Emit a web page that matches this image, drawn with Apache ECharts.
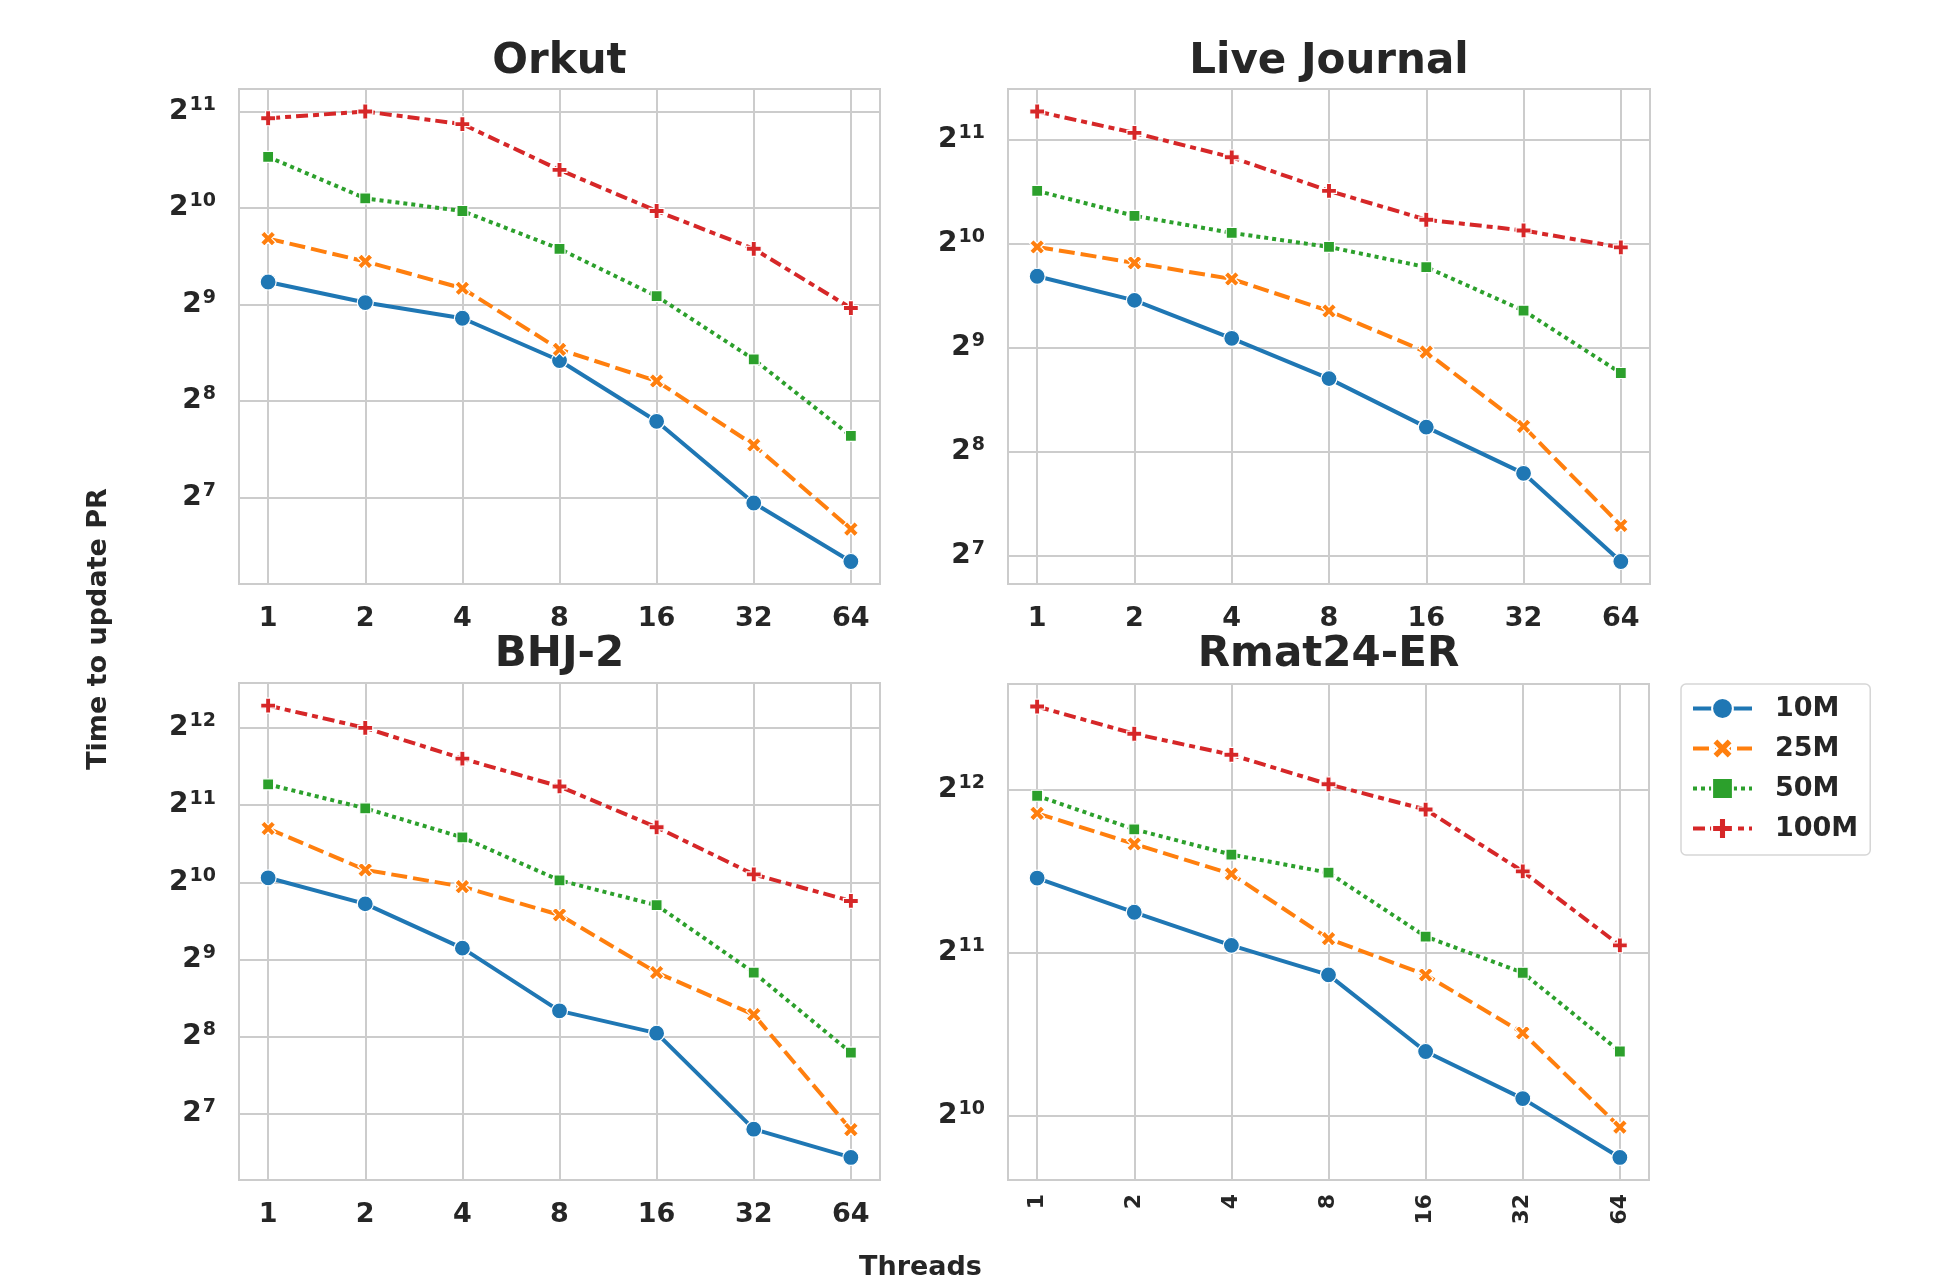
<!DOCTYPE html>
<html>
<head>
<meta charset="utf-8">
<script src="https://cdn.jsdelivr.net/npm/echarts@6/dist/echarts.min.js"></script>
<style>
html,body{margin:0;padding:0;background:#fff;}
#chart{width:1946px;height:1278px;}
</style>
</head>
<body>
<div id="chart"></div>
<script>
// ---- data ----
const threads = [1, 2, 4, 8, 16, 32, 64];
const seriesNames = ['10M', '25M', '50M', '100M'];
const panelTitles = ['Orkut', 'Live Journal', 'BHJ-2', 'Rmat24-ER'];

const orkut_10M  = [601.8, 519.2, 463.7, 342.3, 221.2, 123.0, 80.8];
const orkut_25M  = [822.0, 697.5, 575.2, 370.7, 295.5, 186.6, 102.0];
const orkut_50M  = [1478.5, 1097.5, 1002.1, 763.7, 543.4, 345.1, 199.2];
const orkut_100M = [1950.9, 2048.0, 1870.3, 1346.6, 1002.1, 763.7, 499.0];

const lj_10M  = [824.9, 702.3, 545.3, 416.7, 301.5, 221.5, 123.0];
const lj_25M  = [1003.0, 902.0, 810.1, 654.4, 497.3, 303.0, 156.4];
const lj_50M  = [1458.3, 1234.8, 1102.0, 1003.0, 876.7, 655.8, 432.6];
const lj_100M = [2476.3, 2146.9, 1824.2, 1458.3, 1202.7, 1119.7, 1000.1];

const bhj_10M  = [1066.8, 844.0, 567.3, 323.1, 264.5, 111.7, 86.7];
const bhj_25M  = [1660.1, 1145.7, 984.9, 764.8, 455.7, 312.4, 111.3];
const bhj_50M  = [2467.8, 1990.6, 1532.8, 1042.6, 834.1, 455.7, 222.2];
const bhj_100M = [5004.5, 4096.0, 3108.7, 2421.9, 1678.5, 1099.8, 866.5];

const rmat_10M  = [2809.5, 2428.8, 2110.0, 1861.2, 1343.7, 1099.8, 856.3];
const rmat_25M  = [3699.1, 3247.3, 2858.4, 2170.9, 1861.2, 1454.2, 974.1];
const rmat_50M  = [3986.6, 3456.2, 3104.3, 2874.2, 2190.5, 1878.1, 1343.7];
const rmat_100M = [5824.9, 5188.4, 4744.4, 4184.9, 3758.9, 2890.4, 2110.0];

const panels = [
  [orkut_10M, orkut_25M, orkut_50M, orkut_100M],
  [lj_10M, lj_25M, lj_50M, lj_100M],
  [bhj_10M, bhj_25M, bhj_50M, bhj_100M],
  [rmat_10M, rmat_25M, rmat_50M, rmat_100M]
];

// ---- styles ----
const colors = ['#1f77b4', '#ff7f0e', '#2ca02c', '#d62728'];
const LW = 4;
const dashes = ['solid', [4 * LW, 1.5 * LW], [1 * LW, 1 * LW], [3 * LW, 1.25 * LW, 1.5 * LW, 1.25 * LW]];
const SYM_X = 'path://M0,2.5 L2.5,0 L5,2.5 L7.5,0 L10,2.5 L7.5,5 L10,7.5 L7.5,10 L5,7.5 L2.5,10 L0,7.5 L2.5,5 Z';
const SYM_P = 'path://M3.3,0 L6.7,0 L6.7,3.3 L10,3.3 L10,6.7 L6.7,6.7 L6.7,10 L3.3,10 L3.3,6.7 L0,6.7 L0,3.3 L3.3,3.3 Z';
const symbols = ['circle', SYM_X, 'rect', SYM_P];
const symbolSizes = [16, 15, 11, 15];
const TXT = '#262626';
const GRIDC = '#cccccc';

const gridPos = [
  {left: 239, top: 89, width: 641, height: 495},
  {left: 1008, top: 89, width: 642, height: 495},
  {left: 239, top: 683, width: 641, height: 497},
  {left: 1008, top: 684, width: 641, height: 496}
];

function log2(v) { return Math.log(v) / Math.LN2; }
function isPow(v) { const e = log2(v); return Math.abs(e - Math.round(e)) < 1e-4; }

const grids = [], xAxes = [], yAxes = [], series = [], titles = [];
panels.forEach((pd, p) => {
  grids.push(Object.assign({show: true, borderColor: GRIDC, borderWidth: 2, backgroundColor: '#fff', containLabel: false}, gridPos[p]));
  // axis ranges with 5% margin in log space
  let lo = Infinity, hi = -Infinity;
  pd.forEach(arr => arr.forEach(v => { lo = Math.min(lo, log2(v)); hi = Math.max(hi, log2(v)); }));
  const pad = 0.05 * (hi - lo);
  const xlo = log2(threads[0]), xhi = log2(threads[threads.length - 1]);
  const xpad = 0.05 * (xhi - xlo);
  xAxes.push({
    type: 'log', logBase: 2, gridIndex: p,
    min: Math.pow(2, xlo - xpad), max: Math.pow(2, xhi + xpad),
    axisLine: {show: false}, axisTick: {show: false},
    splitLine: {show: true, lineStyle: {color: GRIDC, width: 2}},
    axisLabel: {
      show: true, color: TXT, fontSize: p === 3 ? 22 : 27, fontWeight: 'bold', fontFamily: 'DejaVu Sans',
      margin: p === 3 ? 14 : 21, rotate: p === 3 ? 90 : 0,
      showMinLabel: true, showMaxLabel: true,
      formatter: v => isPow(v) ? String(Math.round(v)) : ''
    }
  });
  yAxes.push({
    type: 'log', logBase: 2, gridIndex: p,
    min: Math.pow(2, lo - pad), max: Math.pow(2, hi + pad),
    axisLine: {show: false}, axisTick: {show: false},
    splitLine: {show: true, lineStyle: {color: GRIDC, width: 2}},
    axisLabel: {
      show: true, color: TXT, margin: 23,
      formatter: v => isPow(v) ? '{b|2}{s|' + Math.round(log2(v)) + '}' : '',
      rich: {
        b: {fontSize: 28, fontWeight: 'bold', fontFamily: 'DejaVu Sans', color: TXT},
        s: {fontSize: 19, fontWeight: 'bold', fontFamily: 'DejaVu Sans', color: TXT, padding: [0, 0, 13, 1]}
      }
    }
  });
  titles.push({
    text: panelTitles[p],
    left: gridPos[p].left + gridPos[p].width / 2 - 5,
    top: p < 2 ? 36 : 629,
    textAlign: 'center',
    textStyle: {fontSize: 42, fontWeight: 'bold', fontFamily: 'DejaVu Sans', color: TXT}
  });
  pd.forEach((vals, s) => {
    series.push({
      name: seriesNames[s], type: 'line', xAxisIndex: p, yAxisIndex: p,
      data: threads.map((t, i) => [t, vals[i]]),
      symbol: symbols[s], symbolSize: symbolSizes[s],
      showAllSymbol: true,
      lineStyle: {color: colors[s], width: LW, type: dashes[s]},
      itemStyle: {color: colors[s], borderColor: '#ffffff', borderWidth: 1.2, opacity: 1},
      emphasis: {disabled: true},
      z: 2 + s
    });
  });
});

const chart = echarts.init(document.getElementById('chart'), null, {renderer: 'canvas'});
chart.setOption({
  backgroundColor: '#ffffff',
  animation: false,
  title: titles,
  grid: grids,
  xAxis: xAxes,
  yAxis: yAxes,
  series: series,
  legend: {
    data: seriesNames,
    orient: 'vertical',
    left: 1681, top: 684,
    padding: [11, 12, 13, 10],
    itemWidth: 59, itemHeight: 26, itemGap: 13,
    backgroundColor: '#ffffff',
    borderColor: '#d6d6d6', borderWidth: 1.5, borderRadius: 5,
    lineStyle: {width: 4},
    textStyle: {fontSize: 27, fontWeight: 'bold', fontFamily: 'DejaVu Sans', color: TXT, padding: [0, 0, 0, 18]},
    selectedMode: false
  },
  graphic: [
    {type: 'text', x: 99, y: 629, rotation: Math.PI / 2,
     style: {text: 'Time to update PR', fontSize: 27, fontWeight: 'bold', fontFamily: 'DejaVu Sans', fill: TXT, textAlign: 'center', textVerticalAlign: 'middle'}},
    {type: 'text', x: 920.5, y: 1268,
     style: {text: 'Threads', fontSize: 27, fontWeight: 'bold', fontFamily: 'DejaVu Sans', fill: TXT, textAlign: 'center', textVerticalAlign: 'middle'}}
  ]
});
</script>
</body>
</html>
